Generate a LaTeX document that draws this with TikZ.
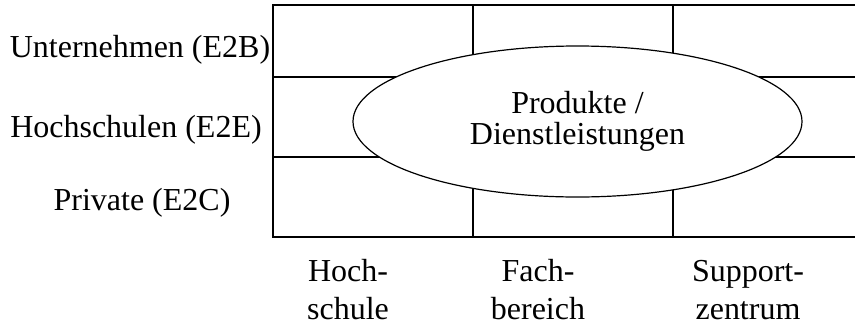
\documentclass[tikz,border=0pt]{standalone}
\usepackage{fontspec}
\setmainfont{Liberation Serif}
\usetikzlibrary{shapes.geometric}
\begin{document}
\begin{tikzpicture}[x=1pt,y=-1pt,
  grid/.style={line width=1.2pt, line cap=rect},
  lbl/.style={font=\fontsize{32}{37.5}\selectfont, inner sep=0pt, align=center},
  ell/.style={ellipse, draw, line width=1.2pt, fill=white, inner sep=0pt,
    minimum width=449pt, minimum height=151pt, align=center,
    font=\fontsize{32}{31.5}\selectfont}]
\useasboundingbox (0,0) rectangle (855,325);
% grid
\draw[grid] (855,5) -- (273,5) -- (273,237) -- (855,237);
\draw[grid] (273,77) -- (855,77);
\draw[grid] (273,157) -- (855,157);
\draw[grid] (473,5) -- (473,237);
\draw[grid] (673,5) -- (673,237);
% ellipse
\node[ell] (prod) at (577.5,121.5) {Produkte /\\Dienstleistungen};
% row labels
\node[lbl, anchor=base] (e2b) at (140,57) {Unternehmen (E2B)};
\node[lbl, anchor=base] (e2e) at (136,137) {Hochschulen (E2E)};
\node[lbl, anchor=base] (e2c) at (142,210) {Private (E2C)};
% column labels
\node[lbl, anchor=base] (hs) at (348,319) {Hoch-\\schule};
\node[lbl, anchor=base] (fb) at (538,319) {Fach-\\bereich};
\node[lbl, anchor=base] (sz) at (748,319) {Support-\\zentrum};
\end{tikzpicture}
\end{document}
